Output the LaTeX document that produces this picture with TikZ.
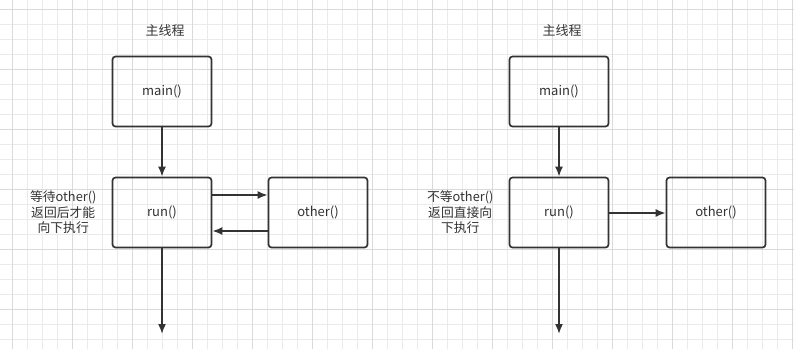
\documentclass[tikz,border=0pt]{standalone}
\usepackage{fontspec}
\setmainfont{Noto Sans CJK SC}
\usetikzlibrary{arrows.meta, positioning}
\definecolor{inkgray}{RGB}{51,51,51}
\definecolor{gridminor}{RGB}{234,234,234}
\definecolor{gridmajor}{RGB}{218,218,218}

\begin{document}
\begin{tikzpicture}[x=1pt,y=-1pt,
  box/.style={draw=inkgray, line width=1.7pt, rounded corners=3pt,
    minimum width=99pt, minimum height=70pt, inner sep=0pt,
    text=inkgray, font=\fontsize{13}{15}\selectfont},
  flow/.style={draw=inkgray, line width=1.7pt, -{Latex[length=10pt,width=8pt]}},
  note/.style={text=inkgray, align=center, inner sep=0pt,
    font=\fontsize{12.8}{15.5}\selectfont},
  heading/.style={text=inkgray, inner sep=0pt, font=\fontsize{13}{15}\selectfont}]
\def\dx{397}
\useasboundingbox (0,0) rectangle (794,349);
\fill[white] (0,0) rectangle (794,349);

% Background grid
\foreach \k in {0,...,52}
  \draw[gridminor, line width=0.8pt] ({12.3+15*\k},0) -- ++(0,349);
\foreach \k in {0,...,22}
  \draw[gridminor, line width=0.8pt] (0,{9.3+15*\k}) -- ++(794,0);
\foreach \k in {0,...,13}
  \draw[gridmajor, line width=0.8pt] ({12.3+60*\k},0) -- ++(0,349);
\foreach \k in {0,...,5}
  \draw[gridmajor, line width=0.8pt] (0,{9.3+60*\k}) -- ++(794,0);

% Left: run() waits for other()
\node[box] (main) at (162,91.5) {main()};
\node[box] (run) at (162,212.5) {run()};
\node[box] (other) at (318,212.5) {other()};
\node[heading, above=19pt of main, xshift=3pt] (title) {主线程};
\node[note, left=15pt of run] (wait) {等待other()\\返回后才能\\向下执行};
\coordinate (end) at (162,334);

\draw[flow] (main) -- (run);
\draw[flow] ([yshift=17.5pt]run.east) -- ([yshift=17.5pt]other.west);
\draw[flow] ([yshift=-18.5pt]other.west) -- ([yshift=-18.5pt]run.east);
\draw[flow] (run) -- (end);

% Right: run() goes on without waiting
\node[box] (main2) at (162+\dx,91.5) {main()};
\node[box] (run2) at (162+\dx,212.5) {run()};
\node[box] (other2) at (716,212.5) {other()};
\node[heading, above=19pt of main2, xshift=3pt] (title2) {主线程};
\node[note, left=15pt of run2] (nowait) {不等other()\\返回直接向\\下执行};
\coordinate (end2) at (162+\dx,334);

\draw[flow] (main2) -- (run2);
\draw[flow] ([yshift=-0.5pt]run2.east) -- ([yshift=-0.5pt]other2.west);
\draw[flow] (run2) -- (end2);
\end{tikzpicture}
\end{document}
